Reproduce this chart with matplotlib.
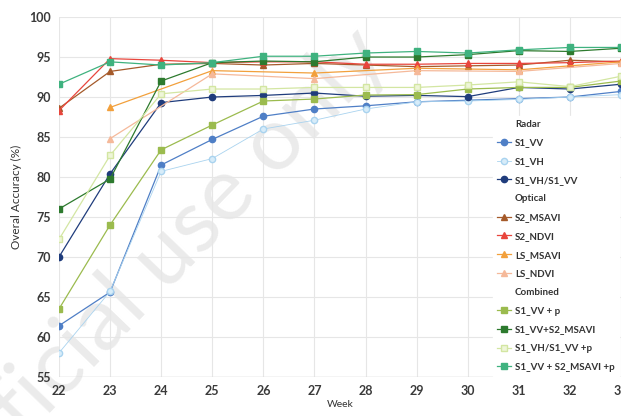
import numpy as np
import matplotlib.pyplot as plt
from matplotlib.lines import Line2D

plt.rcParams['font.family'] = ['Lato', 'DejaVu Sans']

# accuracy per week for each input set
weeks = [22, 23, 24, 25, 26, 27, 28, 29, 30, 31, 32, 33]
ls_weeks = [23, 25, 27, 29, 31, 33]

s1_vv = [61.4, 65.6, 81.5, 84.7, 87.6, 88.5, 88.9, 89.4, 89.6, 89.8, 90.0, 90.7]
s1_vh = [58.0, 65.7, 80.7, 82.3, 86.0, 87.1, 88.5, 89.4, 89.5, 89.7, 90.0, 90.3]
s1_ratio = [70.0, 80.4, 89.3, 90.0, 90.2, 90.5, 90.1, 90.2, 90.05, 91.2, 91.0, 91.6]

s2_msavi = [88.6, 93.2, 94.1, 94.2, 94.0, 94.2, 94.0, 93.8, 93.9, 94.0, 94.6, 94.4]
s2_ndvi = [88.3, 94.8, 94.6, 94.3, 94.4, 94.4, 94.1, 94.1, 94.2, 94.2, 94.3, 94.5]
ls_msavi = [88.7, 93.3, 93.0, 93.6, 93.4, 94.4]
ls_ndvi = [84.8, 92.9, 92.3, 93.3, 93.2, 94.2]

vv_p = [63.5, 74.0, 83.4, 86.5, 89.5, 89.75, 90.25, 90.3, 91.0, 91.2, 91.2, 92.0]
vv_msavi = [76.0, 79.75, 92.0, 94.3, 94.5, 94.4, 95.0, 95.0, 95.3, 95.8, 95.7, 96.1]
ratio_p = [72.2, 82.7, 90.4, 91.0, 91.0, 91.2, 91.2, 91.2, 91.5, 91.9, 91.3, 92.6]
vv_msavi_p = [91.6, 94.4, 94.0, 94.3, 95.1, 95.1, 95.5, 95.7, 95.5, 95.9, 96.2, 96.2]

fig = plt.figure(figsize=(6.21, 4.16), dpi=100)
ax = fig.add_axes([0.095, 0.094, 0.905, 0.865])

# watermark, kept under the grid, tick labels and the data
ax.text(0.60, 0.90, 'For official use only', transform=fig.transFigure,
        rotation=46, rotation_mode='anchor', ha='right', va='center',
        fontsize=64, color='#ebebeb', zorder=0.2, clip_on=False)

def series(x, y, color, marker, face=None, lw=0.9, label=None):
    h, = ax.plot(x, y, color=color, lw=lw, marker=marker, markersize=4.5,
                 markerfacecolor=face if face else color,
                 markeredgecolor=color, markeredgewidth=1.0, label=label, zorder=3)
    return h

h_vv = series(weeks, s1_vv, '#4f7fc6', 'o', label='S1_VV')
h_vh = series(weeks, s1_vh, '#a9d3ef', 'o', face='#d7ecf9', lw=0.6, label='S1_VH')
h_ratio = series(weeks, s1_ratio, '#1f3c7c', 'o', label='S1_VH/S1_VV')

h_s2m = series(weeks, s2_msavi, '#a55a2a', '^', label='S2_MSAVI')
h_s2n = series(weeks, s2_ndvi, '#e8453c', '^', label='S2_NDVI')
h_lsm = series(ls_weeks, ls_msavi, '#f2a03c', '^', label='LS_MSAVI')
h_lsn = series(ls_weeks, ls_ndvi, '#f5b99a', '^', label='LS_NDVI')

h_vvp = series(weeks, vv_p, '#9bbb4e', 's', label='S1_VV + p')
h_vvm = series(weeks, vv_msavi, '#2d7a2e', 's', label='S1_VV+S2_MSAVI')
h_rp = series(weeks, ratio_p, '#d3e6a2', 's', face='#eef6d8', label='S1_VH/S1_VV +p')
h_vvmp = series(weeks, vv_msavi_p, '#3fb27f', 's', label='S1_VV + S2_MSAVI +p')

ax.set_xlim(22, 33)
ax.set_ylim(55, 100)
ax.set_xticks(weeks)
ax.set_yticks(np.arange(55, 101, 5))
ax.grid(True, color='#e6e6e6', lw=0.8)
ax.set_axisbelow(True)
for s in ax.spines.values():
    s.set_visible(False)
ax.axhline(55, color='#d4d4d4', lw=1.0, zorder=1.5)
ax.tick_params(length=0, labelsize=9, labelcolor='#3a3a3a', pad=6)
for t in ax.get_xticklabels() + ax.get_yticklabels():
    t.set_fontweight('bold')

ax.set_xlabel('Week', fontsize=7.5, color='#333333', labelpad=2)
ax.set_ylabel('Overal Accuracy (%)', fontsize=8.5, color='#333333', labelpad=5)

blank = Line2D([], [], linestyle='none')
handles = [blank, h_vv, h_vh, h_ratio,
           blank, h_s2m, h_s2n, h_lsm, h_lsn,
           blank, h_vvp, h_vvm, h_rp, h_vvmp]
labels = ['Radar', 'S1_VV', 'S1_VH', 'S1_VH/S1_VV',
          'Optical', 'S2_MSAVI', 'S2_NDVI', 'LS_MSAVI', 'LS_NDVI',
          'Combined', 'S1_VV + p', 'S1_VV+S2_MSAVI', 'S1_VH/S1_VV +p',
          'S1_VV + S2_MSAVI +p']
leg = fig.legend(handles, labels, loc='lower right', bbox_to_anchor=(1.004, 0.085),
                 fontsize=7, frameon=True, framealpha=1.0, edgecolor='white',
                 handlelength=1.5, handletextpad=0.4, labelspacing=1.0,
                 borderpad=0.4, fancybox=False)
leg.set_zorder(5)
for t in leg.get_texts():
    t.set_color('#333333')
    t.set_fontweight('bold')

fig.savefig('out.png', dpi=100)
